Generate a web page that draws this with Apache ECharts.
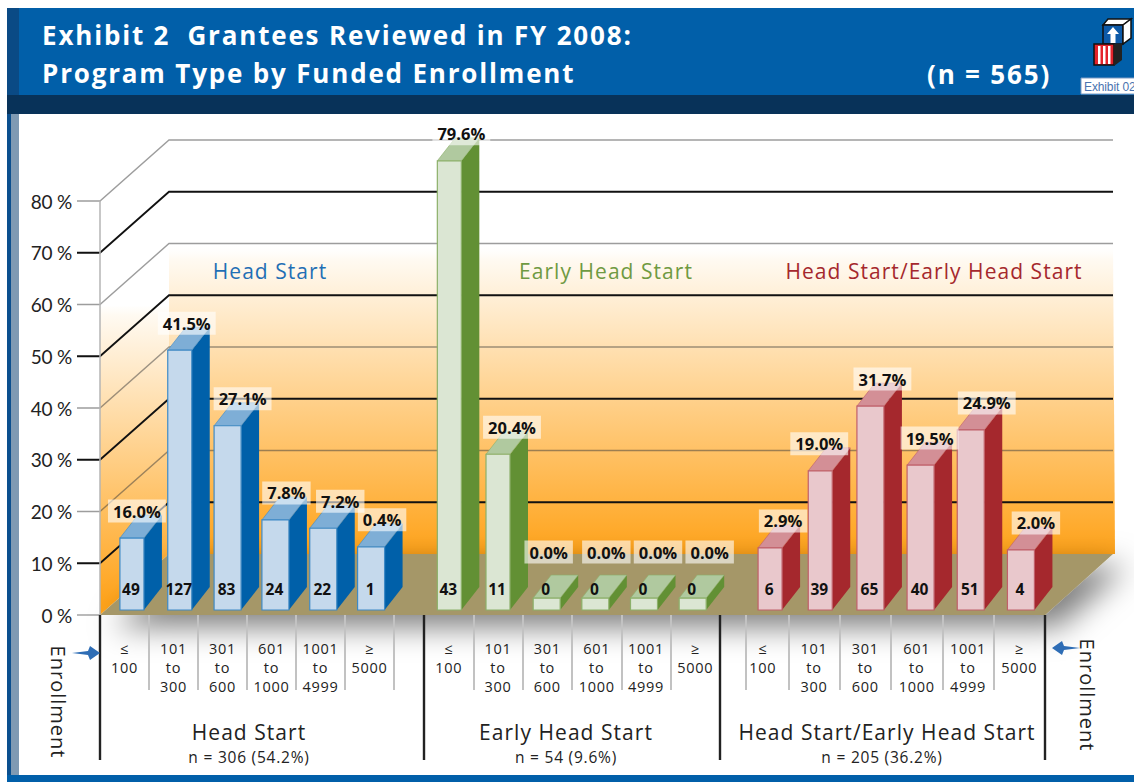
<!DOCTYPE html>
<html>
<head>
<meta charset="utf-8">
<style>
  html, body { margin: 0; padding: 0; background: #fff; }
  #chart { width: 1134px; height: 782px; }
  /* the exhibit sets its text slightly open */
  #chart text { letter-spacing: 0.05em; }
  #chart text[style*="bold"] { letter-spacing: 0; }
  #chart text[style*="26px"], #chart text[fill="#fff"] { letter-spacing: 0.07em !important; }
  #chart text[style*="Lato"], #chart text[style*="Liberation"] { letter-spacing: -0.01em; }
</style>
<script src="https://cdn.jsdelivr.net/npm/echarts@6/dist/echarts.min.js"></script>
</head>
<body>
<div id="chart"></div>
<script>
const yTicks = [0, 10, 20, 30, 40, 50, 60, 70, 80];
const enrollmentLabels = ['≤\n100', '101\nto\n300', '301\nto\n600', '601\nto\n1000', '1001\nto\n4999', '≥\n5000'];
const groupNames = ['Head Start', 'Early Head Start', 'Head Start/Early Head Start'];
const groupTotals = ['n = 306 (54.2%)', 'n = 54 (9.6%)', 'n = 205 (36.2%)'];

// printed percentages
const headStartPct = ['16.0%', '41.5%', '27.1%', '7.8%', '7.2%', '0.4%'];
const earlyPct = ['79.6%', '20.4%', '0.0%', '0.0%', '0.0%', '0.0%'];
const bothPct = ['2.9%', '19.0%', '31.7%', '19.5%', '24.9%', '2.0%'];

// grantee counts printed in the bars
const headStartCounts = [49, 127, 83, 24, 22, 1];
const earlyCounts = [43, 11, 0, 0, 0, 0];
const bothCounts = [6, 39, 65, 40, 51, 4];

// drawn bar heights read against the y axis (the picture does not draw them to the printed %)
const headStartLevels = [13.9, 50.2, 35.6, 17.4, 15.8, 12.2];
const earlyLevels = [86.8, 30.1, 2.3, 2.3, 2.3, 2.3];
const bothLevels = [12.0, 26.9, 39.4, 28.0, 34.8, 11.6];

const FONT = '"Open Sans", sans-serif';
const WALL_DX = 69, WALL_DY = -61;   // floor depth
const BAR_DX = 18, BAR_DY = -23;     // bar depth
const BAR_INSET = 5;                 // bars stand a bit behind the front edge of the floor

const chart = echarts.init(document.getElementById('chart'), null, { renderer: 'svg' });

function fade(y0, y1) {
  return { type: 'linear', x: 0, y: y0, x2: 0, y2: y1, global: true, colorStops: [
    { offset: 0, color: 'rgba(255,255,255,0)' },
    { offset: 0.05, color: '#fffaf2' },
    { offset: 1, color: '#ffa31a' }
  ]};
}

// walls and floor of the "room"
function renderRoom(params, api) {
  const cs = params.coordSys;
  const x0 = cs.x, x1 = cs.x + cs.width;
  const y0 = api.coord([0, 0])[1];
  const y60 = api.coord([0, 60])[1];
  const bx0 = x0 + WALL_DX, bx1 = x1 + WALL_DX - 1, by0 = y0 + WALL_DY;
  return { type: 'group', children: [
    { type: 'polygon', shape: { points: [[bx0, y60 + WALL_DY], [bx1, y60 + WALL_DY], [bx1 + 2, by0], [bx0, by0]] },
      style: { fill: fade(y60 + WALL_DY, by0) } },
    { type: 'polygon', shape: { points: [[x0, y60 + 2], [bx0, y60 + 2], [bx0, by0], [x0, y0]] },
      style: { fill: fade(y60 - 5, y0 - 12) } },
    { type: 'polygon', shape: { points: [[x0, y0], [x1, y0], [bx1, by0], [bx0, by0]] },
      style: { fill: '#a59768', shadowBlur: 30, shadowColor: 'rgba(0,0,0,0.5)', shadowOffsetX: 14, shadowOffsetY: 12 } }
  ]};
}

// one grid line: tick, diagonal up the side wall, then along the back wall
function renderGridLine(params, api) {
  const cs = params.coordSys;
  const v = api.value(1);
  const y = api.coord([0, v])[1];
  const dark = v % 20 === 10;
  const pts = v === 0
    ? [[cs.x - 23, y], [cs.x, y]]
    : [[cs.x - 23, y], [cs.x, y], [cs.x + WALL_DX, y + WALL_DY], [cs.x + cs.width + WALL_DX - 1, y + WALL_DY]];
  return { type: 'polyline', shape: { points: pts },
    style: { fill: null, stroke: dark ? '#111' : 'rgba(60,60,60,0.5)', lineWidth: dark ? 1.8 : 1.4 } };
}

function barRenderer(colors) {
  return function (params, api) {
    const i = api.value(0);
    const yb = api.coord([i, 0])[1] - BAR_INSET;
    const top = api.coord([i, api.value(1)]);
    const w = i < 2 ? 24 : 27;
    const xl = top[0] - w / 2, xr = top[0] + w / 2, yt = top[1] - BAR_INSET;
    return { type: 'group', children: [
      { type: 'polygon', shape: { points: [[xr, yt], [xr + BAR_DX, yt + BAR_DY], [xr + BAR_DX, yb + BAR_DY], [xr, yb]] },
        style: { fill: colors.side } },
      { type: 'polygon', shape: { points: [[xl, yt], [xl + BAR_DX, yt + BAR_DY], [xr + BAR_DX, yt + BAR_DY], [xr, yt]] },
        style: { fill: colors.top, stroke: colors.edge, lineWidth: 0.6 } },
      { type: 'rect', shape: { x: xl, y: yt, width: w, height: yb - yt },
        style: { fill: colors.front, stroke: colors.edge, lineWidth: 1.2 } },
      { type: 'text', x: top[0] - 1, y: yb - 21,
        style: { text: String(api.value(3)), font: 'bold 15.5px ' + FONT, fill: '#111', align: 'center', verticalAlign: 'middle' } }
    ]};
  };
}

function pctRenderer(shifts) {
  return function (params, api) {
    const i = api.value(0);
    const top = api.coord([i, api.value(1)]);
    const zero = api.value(2) === 0;
    return { type: 'text', x: top[0] + shifts[i], y: top[1] - BAR_INSET - (zero ? 46 : 27),
      style: { text: api.value(2).toFixed(1) + '%', font: 'bold 16.5px ' + FONT, fill: '#111',
        align: 'center', verticalAlign: 'middle',
        backgroundColor: 'rgba(255,255,255,0.6)', padding: [3, 5, 3, 5] } };
  };
}

function barSeries(gridIdx, levels, pct, counts, colors, shifts) {
  const rows = levels.map((v, i) => [i, v, parseFloat(pct[i]), counts[i]]);
  return [
    { type: 'custom', xAxisIndex: gridIdx, yAxisIndex: gridIdx, z: 6, clip: false, data: rows,
      renderItem: barRenderer(colors), silent: true, animation: false },
    { type: 'custom', xAxisIndex: gridIdx, yAxisIndex: gridIdx, z: 7, clip: false, data: rows,
      renderItem: pctRenderer(shifts), silent: true, animation: false }
  ];
}

const blue = { front: '#c5d9ec', side: '#0060a9', top: '#7eaed6', edge: '#3f8ac6' };
const green = { front: '#dbe6d3', side: '#629034', top: '#b0c99f', edge: '#8cb06a' };
const red = { front: '#e9c8cc', side: '#a5282d', top: '#d38f96', edge: '#c0606a' };

// grids: 0 room and y axis, 1-3 bars, 4-6 enrollment bands
const barGrids = [[108, 287], [425, 292], [745, 301]];
const bandGrids = [[100, 294], [424, 296], [737, 308]];
const bandTicks = [
  [1, 2, 3, 4, 5, 6],
  [1, 2, 3, 4, 5],
  [0.17, 1, 2, 3, 4, 5]
];

const grids = [{ left: 100, width: 945, top: 201, bottom: 167 }];
const xAxes = [{ gridIndex: 0, type: 'value', min: 0, max: 1, show: false }];
const yAxes = [{
  gridIndex: 0, type: 'value', min: 0, max: 80, interval: 10, z: 5,
  axisLine: { show: true, lineStyle: { color: '#b5b5b5', width: 1.5 } },
  axisTick: { show: false }, splitLine: { show: false },
  axisLabel: { margin: 28, formatter: '{value} %', fontFamily: 'Lato, sans-serif', fontSize: 19, color: '#222' }
}];
barGrids.forEach((g, k) => {
  grids.push({ left: g[0], width: g[1], top: 201, bottom: 167 });
  xAxes.push({ gridIndex: k + 1, type: 'category', data: enrollmentLabels.map((_, i) => i), show: false });
  yAxes.push({ gridIndex: k + 1, type: 'value', min: 0, max: 80, show: false });
});
bandGrids.forEach((g, k) => {
  grids.push({ left: g[0], width: g[1], top: 600, bottom: 167 });
  xAxes.push({
    gridIndex: k + 4, type: 'value', min: 0, max: enrollmentLabels.length, z: 5,
    axisLine: { show: false }, splitLine: { show: false },
    axisTick: { show: true, customValues: bandTicks[k], length: 75, lineStyle: { color: '#c2c2c2', width: 2 } },
    axisLabel: {
      customValues: enrollmentLabels.map((_, i) => i + 0.5),
      formatter: v => enrollmentLabels[Math.floor(v)],
      margin: 24, verticalAlign: 'top', fontFamily: FONT, fontSize: 14.5, lineHeight: 19, color: '#222'
    }
  });
  yAxes.push({ gridIndex: k + 4, type: 'value', min: 0, max: 1, show: false });
});

function txt(text, x, y, size, fill, extra) {
  return Object.assign({ type: 'text', x: x, y: y, z: 10, silent: true,
    style: { text: text, font: size + 'px ' + FONT, fill: fill, align: 'center', verticalAlign: 'middle' } }, extra || {});
}
function box(x, y, w, h, fill, z, stroke) {
  return { type: 'rect', shape: { x: x, y: y, width: w, height: h },
    style: stroke ? { fill: fill, stroke: stroke, lineWidth: 1.5 } : { fill: fill }, z: z || 1, silent: true };
}
function arrow(tip, tail, y, dir) {
  const head = tip - dir * 10;
  return { type: 'polygon', z: 10, silent: true,
    shape: { points: [[tip, y], [head, y - 7], [head - dir * 2, y - 2], [tail, y], [head - dir * 2, y + 2], [head, y + 7]] },
    style: { fill: '#2e6db5' } };
}
function vline(x) {
  return { type: 'line', z: 10, silent: true, shape: { x1: x, y1: 615, x2: x, y2: 760 }, style: { stroke: '#222', lineWidth: 2.4 } };
}

const groupCentersX = [249, 566, 887];
const backWallCentersX = [270, 606, 934];
const backWallColors = ['#1f6fb5', '#6f9a42', '#a5282d'];

const decorations = [
  // frame
  box(7, 8, 1127, 87, '#015fa9'),
  box(7, 8, 12, 87, '#0a4a85', 2),
  box(7, 95, 1127, 19, '#083259'),
  box(7, 114, 4, 661, '#0b4f8e'),
  box(11, 114, 8, 661, '#7f9ab3'),
  box(7, 775, 1127, 7, '#015fa9'),
  // logo blocks
  { type: 'polygon', z: 3, silent: true, shape: { points: [[1108, 19], [1131, 19], [1123, 25], [1103, 25]] }, style: { fill: '#fff', stroke: '#111', lineWidth: 1.5 } },
  box(1103, 25, 20, 19, '#0d5aa8', 3, '#111'),
  { type: 'polygon', z: 3, silent: true, shape: { points: [[1123, 25], [1131, 19], [1131, 38], [1123, 44]] }, style: { fill: '#fff', stroke: '#111', lineWidth: 1.5 } },
  { type: 'polygon', z: 4, silent: true, shape: { points: [[1113, 27], [1119, 34], [1115.5, 34], [1115.5, 43], [1110.5, 43], [1110.5, 34], [1107, 34]] }, style: { fill: '#fff' } },
  box(1094, 44, 20, 21, '#e4232b', 3, '#111'),
  box(1098, 46, 2.5, 18, '#fff', 4),
  box(1103, 46, 2.5, 18, '#fff', 4),
  box(1108, 46, 2.5, 18, '#fff', 4),
  { type: 'polygon', z: 3, silent: true, shape: { points: [[1114, 44], [1122, 44], [1122, 60], [1114, 66]] }, style: { fill: '#222' } },
  { type: 'rect', z: 3, silent: true, shape: { x: 1081, y: 78, width: 56, height: 16 }, style: { fill: '#fff', stroke: '#7d9cc4', lineWidth: 1 } },
  { type: 'text', z: 4, silent: true, x: 1084, y: 86.5, style: { text: 'Exhibit 02', font: '12px "Liberation Sans", Arial, sans-serif', fill: '#4a74b0', verticalAlign: 'middle' } },
  // group dividers and enrollment captions
  vline(100), vline(424), vline(720), vline(1045),
  arrow(100, 72, 653, 1),
  arrow(1052, 1080, 648, -1),
  txt('Enrollment', 58, 702, 20, '#222', { rotation: -Math.PI / 2 }),
  txt('Enrollment', 1087, 695, 20, '#222', { rotation: -Math.PI / 2 })
];
groupNames.forEach((name, k) => {
  decorations.push(txt(name, backWallCentersX[k], 271, 21, backWallColors[k]));
  decorations.push(txt(name, groupCentersX[k], 732, 21, '#222'));
  decorations.push(txt(groupTotals[k], groupCentersX[k] - (k === 2 ? 5 : 0), 757, 15.5, '#222'));
});

chart.setOption({
  animation: false,
  backgroundColor: '#fff',
  title: [
    { text: 'Exhibit 2  Grantees Reviewed in FY 2008:\nProgram Type by Funded Enrollment', left: 37, top: 11, z: 10,
      textStyle: { color: '#fff', fontFamily: FONT, fontWeight: 'bold', fontSize: 26, lineHeight: 38 } },
    { text: '(n = 565)', left: 922, top: 50, z: 10,
      textStyle: { color: '#fff', fontFamily: FONT, fontWeight: 'bold', fontSize: 26, lineHeight: 38 } }
  ],
  grid: grids,
  xAxis: xAxes,
  yAxis: yAxes,
  graphic: { elements: decorations },
  series: [
    { type: 'custom', xAxisIndex: 0, yAxisIndex: 0, z: 2, clip: false, data: [[0, 0]], renderItem: renderRoom, silent: true },
    { type: 'custom', xAxisIndex: 0, yAxisIndex: 0, z: 3, clip: false, data: yTicks.map(v => [0, v]), renderItem: renderGridLine, silent: true }
  ].concat(
    barSeries(1, headStartLevels, headStartPct, headStartCounts, blue, [5, 7, 15, 11, 17, 11]),
    barSeries(2, earlyLevels, earlyPct, earlyCounts, green, [12, 14, 2, 11, 14, 17]),
    barSeries(3, bothLevels, bothPct, bothCounts, red, [13, -1, 12, 9, 16, 15])
  )
});
</script>
</body>
</html>
